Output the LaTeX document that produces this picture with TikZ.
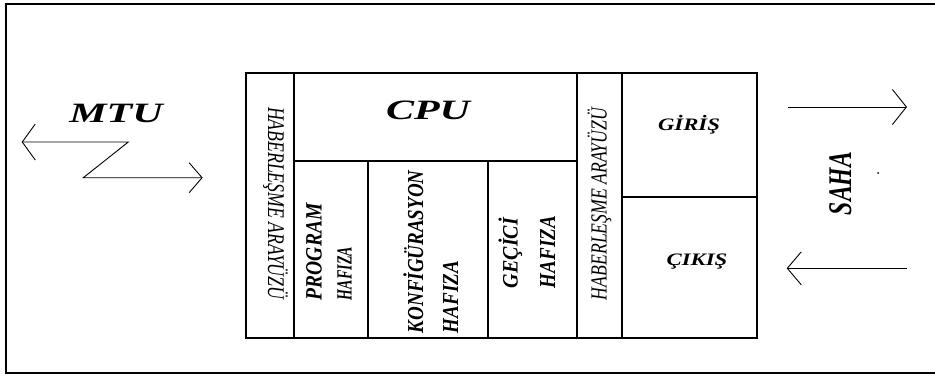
\documentclass[tikz,border=0pt]{standalone}
\usepackage{fontspec}
\usepackage{graphicx}
\setmainfont{Liberation Serif}
\usetikzlibrary{arrows.meta}
\newcommand\hstr[2]{\scalebox{#1}[1]{#2}}
\newcommand\vstr[2]{\scalebox{1}[#1]{#2}}
\begin{document}
\begin{tikzpicture}[x=1pt,y=-1pt,
  frame/.style={line width=2pt},
  cell/.style={line width=1.5pt},
  arrline/.style={line width=0.9pt},
  lbl/.style={inner sep=0pt, outer sep=0pt},
  bi/.style={lbl, font=\fontsize{#1}{#1}\selectfont\bfseries\itshape},
  it/.style={lbl, font=\fontsize{#1}{#1}\selectfont\itshape}
]
\useasboundingbox (0,0) rectangle (935,376);
% outer frame (open on the right)
\draw[frame] (935,4.3) -- (6,4.3) -- (6,373) -- (935,373);
% main block
\draw[cell] (246,73) rectangle (757,338);
\draw[cell] (294,73) -- (294,338);
\draw[cell] (577,73) -- (577,338);
\draw[cell] (622,73) -- (622,338);
\draw[cell] (294,161) -- (577,161);
\draw[cell] (368,161) -- (368,338);
\draw[cell] (488,161) -- (488,338);
\draw[cell] (622,197) -- (757,197);
% horizontal labels
\node[bi=28] (mtu) at (116,113) {\hstr{1.5}{MTU}};
\node[bi=28] (cpu) at (428,110) {\hstr{1.5}{CPU}};
\node[bi=17.5, anchor=base] (giris) at (689,130.5) {\hstr{1.3}{GİRİŞ}};
\node[bi=17.5, anchor=base] (cikis) at (697,265.5) {\hstr{1.3}{ÇIKIŞ}};
% rotated labels
\node[it=17.7, rotate=-90, anchor=base west] (habL) at (268,107) {\vstr{1.35}{HABERLEŞME ARAYÜZÜ}};
\node[it=17.7, rotate=90, anchor=base west] (habR) at (606.5,300) {\vstr{1.3}{HABERLEŞME ARAYÜZÜ}};
\node[bi=19.5, rotate=90, anchor=base west] (prog) at (321.5,300) {\vstr{1.2}{PROGRAM}};
\node[bi=14, rotate=90, anchor=base west] (progh) at (351.5,300) {\vstr{1.55}{HAFIZA}};
\node[bi=19, rotate=90, anchor=base west] (konf) at (423,333) {\vstr{1.2}{KONFİGÜRASYON}};
\node[bi=19, rotate=90, anchor=base west] (konfh) at (458,333) {\vstr{1.2}{HAFIZA}};
\node[bi=20, rotate=90, anchor=base west] (gec) at (517.5,288) {\vstr{1.1}{GEÇİCİ}};
\node[bi=19, rotate=90, anchor=base west] (gech) at (555,288) {\vstr{1.2}{HAFIZA}};
\node[bi=23.6, rotate=90, anchor=base west] (saha) at (851,215) {\vstr{1.4}{SAHA}};
\fill (878,173) circle (1pt);
% MTU link
\coordinate (mL) at (21.7,142);
\coordinate (mA) at (128.3,142);
\coordinate (mB) at (83.3,177.7);
\coordinate (mR) at (202.7,177.7);
\draw[arrline, {Straight Barb[length=13pt,width=36pt]}-{Straight Barb[length=13pt,width=30pt]}] (mL) -- (mA) -- (mB) -- (mR);
% SAHA arrows
\coordinate (inS) at (788,107);
\coordinate (inE) at (907,107);
\coordinate (outS) at (907,268.3);
\coordinate (outE) at (786.7,268.3);
\draw[arrline, -{Straight Barb[length=14pt,width=35pt]}] (inS) -- (inE);
\draw[arrline, -{Straight Barb[length=14pt,width=33pt]}] (outS) -- (outE);
\end{tikzpicture}
\end{document}
